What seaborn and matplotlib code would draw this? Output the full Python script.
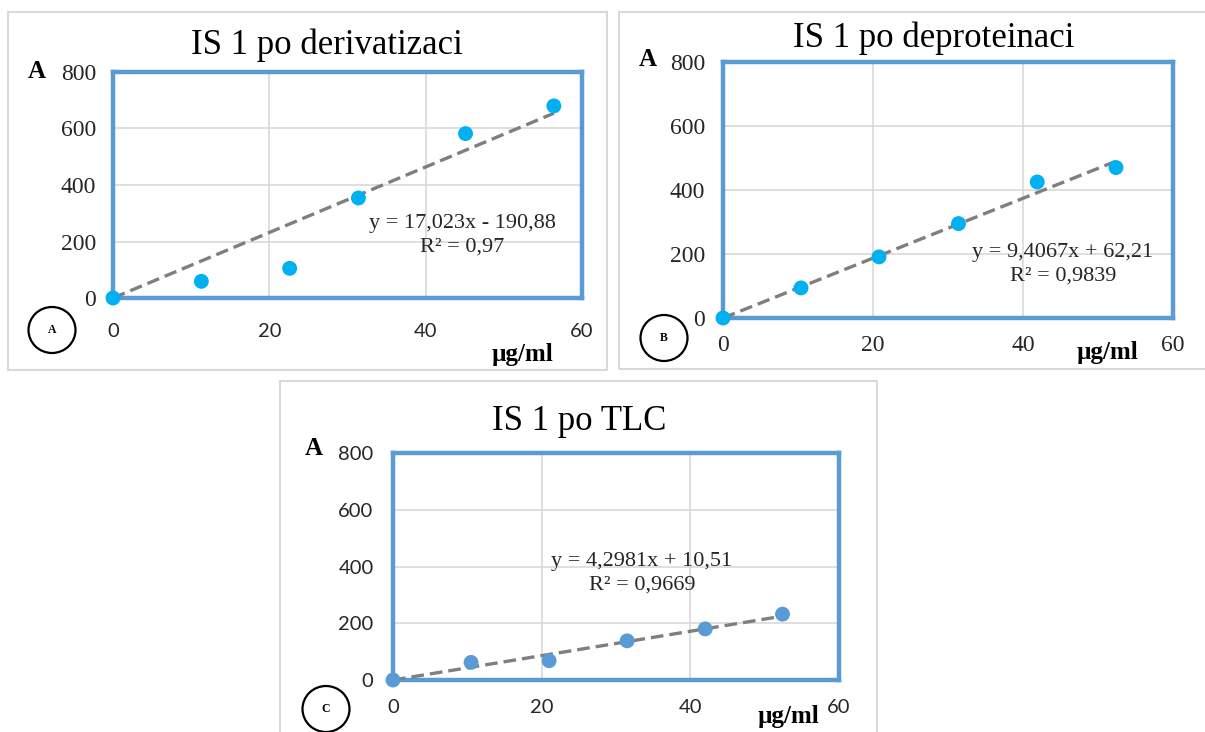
import matplotlib
matplotlib.use("Agg")
import matplotlib.pyplot as plt
from matplotlib.patches import Rectangle, Ellipse
import seaborn as sns
import pandas as pd

# ---- data ----
x_A = [0, 11.3, 22.6, 31.4, 45.1, 56.4]
y_A = [0, 59, 105, 354, 582, 680]
trend_x_A = [0, 56.4]
trend_y_A = [0, 654]

x_B = [0, 10.4, 20.8, 31.4, 41.9, 52.4]
y_B = [0, 94, 191, 295, 425, 470]
trend_x_B = [0, 52.4]
trend_y_B = [0, 490]

x_C = [0, 10.5, 21.0, 31.5, 42.0, 52.4]
y_C = [0, 62, 68, 138, 180, 232]
trend_x_C = [0, 52.4]
trend_y_C = [0, 225]

titles = ["IS 1 po derivatizaci", "IS 1 po deproteinaci", "IS 1 po TLC"]
equations = ["y = 17,023x - 190,88\nR² = 0,97",
             "y = 9,4067x + 62,21\nR² = 0,9839",
             "y = 4,2981x + 10,51\nR² = 0,9669"]
panel_letters = ["A", "B", "C"]
x_ticks = [0, 20, 40, 60]
y_ticks = [0, 200, 400, 600, 800]
x_unit = "µg/ml"
y_unit = "A"

sns.set_theme(style="white")
plt.rcParams['font.family'] = ['Liberation Serif', 'DejaVu Sans']

W, H = 1205, 732
fig = plt.figure(figsize=(W / 100, H / 100), dpi=100)
fig.patch.set_facecolor("white")

def fx(px):
    return px / W

def fy(py):
    return 1 - py / H

BLUE = "#5b9bd5"
CYAN = "#00b0f0"
GRAY = "#7f7f7f"
SERIF = "Liberation Serif"
SANS = "Lato"

panels = [
    dict(x=x_A, y=y_A, tx=trend_x_A, ty=trend_y_A, color=CYAN,
         box=(113, 72, 582, 298), frame=(8, 12, 607, 370),
         title=(327, 45), eq=(462, 235), a=(37, 72), unit=(522, 354),
         circ=(52, 330), yfont=SERIF, xfont=SANS, ypad=12, xpad=18),
    dict(x=x_B, y=y_B, tx=trend_x_B, ty=trend_y_B, color=CYAN,
         box=(723, 62, 1173, 318), frame=(619, 12, 1215, 369),
         title=(934, 38), eq=(1063, 264), a=(648, 60), unit=(1107, 352),
         circ=(664, 338), yfont=SERIF, xfont=SERIF, ypad=13, xpad=12),
    dict(x=x_C, y=y_C, tx=trend_x_C, ty=trend_y_C, color=BLUE,
         box=(393, 453, 839, 680), frame=(280, 381, 877, 745),
         title=(579, 422), eq=(642, 573), a=(314, 449), unit=(788, 716),
         circ=(326, 709), yfont=SANS, xfont=SANS, ypad=14, xpad=14),
]

for i, p in enumerate(panels):
    # outer light frame
    l, t, r, b = p["frame"]
    fig.patches.append(Rectangle((fx(l), fy(b)), fx(r) - fx(l), fy(t) - fy(b),
                                 transform=fig.transFigure, fill=False,
                                 edgecolor="#d9d9d9", linewidth=1.5, zorder=0))
    l, t, r, b = p["box"]
    ax = fig.add_axes([fx(l), fy(b), fx(r) - fx(l), fy(t) - fy(b)])
    df = pd.DataFrame({"x": p["x"], "y": p["y"]})
    tdf = pd.DataFrame({"x": p["tx"], "y": p["ty"]})
    ax.set_xlim(0, 60)
    ax.set_ylim(0, 800)
    ax.set_xticks(x_ticks)
    ax.set_yticks(y_ticks)
    ax.grid(True, color="#d9d9d9", linewidth=1.2)
    ax.set_axisbelow(True)
    sns.lineplot(data=tdf, x="x", y="y", ax=ax, color=GRAY, linewidth=2.4,
                 linestyle=(0, (3.8, 1.8)), zorder=3)
    sns.scatterplot(data=df, x="x", y="y", ax=ax, color=p["color"], s=115,
                    edgecolor="none", zorder=4, clip_on=False)
    for sp in ax.spines.values():
        sp.set_visible(True)
        sp.set_color(BLUE)
        sp.set_linewidth(3.2)
        sp.set_zorder(2)
    ax.set_xlabel("")
    ax.set_ylabel("")
    ax.tick_params(axis="both", length=0)
    ax.tick_params(axis="y", pad=p["ypad"])
    ax.tick_params(axis="x", pad=p["xpad"])
    for lab in ax.get_yticklabels():
        lab.set_fontfamily(p["yfont"])
        lab.set_fontsize(17 if p["yfont"] == SERIF else 14.5)
        lab.set_color("#262626")
    for lab in ax.get_xticklabels():
        lab.set_fontfamily(p["xfont"])
        lab.set_fontsize(17 if p["xfont"] == SERIF else 14.5)
        lab.set_color("#262626")

    fig.text(fx(p["title"][0]), fy(p["title"][1]), titles[i], ha="center",
             va="center", fontsize=25, family=SERIF, color="black")
    fig.text(fx(p["eq"][0]), fy(p["eq"][1]), equations[i], ha="center",
             va="center", fontsize=16, family=SERIF, color="#262626",
             linespacing=1.35, multialignment="center")
    fig.text(fx(p["a"][0]), fy(p["a"][1]), y_unit, ha="center", va="center",
             fontsize=18, family=SERIF, weight="bold", color="black")
    fig.text(fx(p["unit"][0]), fy(p["unit"][1]), x_unit, ha="center",
             va="center", fontsize=18, family=SERIF, weight="bold",
             color="black")
    cx, cy = p["circ"]
    fig.patches.append(Ellipse((fx(cx), fy(cy)), 47 / W, 46 / H,
                               transform=fig.transFigure, fill=False,
                               edgecolor="black", linewidth=1.6))
    fig.text(fx(cx), fy(cy), panel_letters[i], ha="center", va="center",
             fontsize=8.5, family=SERIF, weight="bold", color="black")

fig.savefig("out.png", dpi=100)
